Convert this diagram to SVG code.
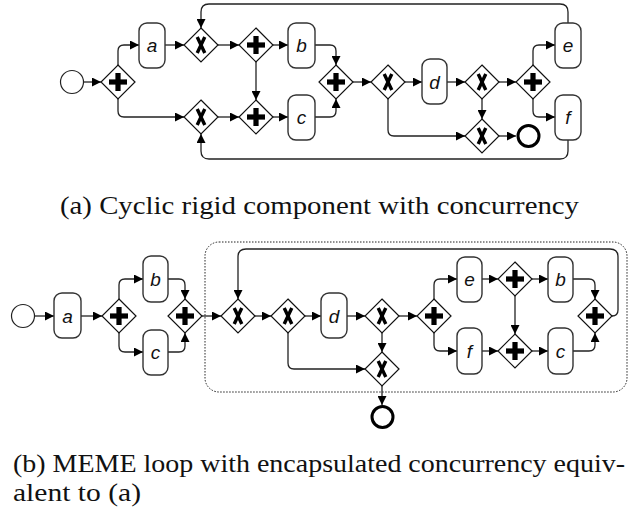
<svg xmlns="http://www.w3.org/2000/svg" width="629" height="512" viewBox="0 0 629 512">
<style>
.task{fill:#fff;stroke:#333;stroke-width:1.4}
.gw{fill:#fff;stroke:#111;stroke-width:1.2}
.start{fill:#fff;stroke:#222;stroke-width:1.2}
.end{fill:#fff;stroke:#000;stroke-width:3}
.lbl{font-family:"Liberation Sans",Arial,sans-serif;font-style:italic;font-size:19px;fill:#111;text-anchor:middle}
.cap{font-family:"Liberation Serif","Times New Roman",serif;font-size:25px;fill:#111}
.edge{fill:none;stroke:#222;stroke-width:1.3;marker-end:url(#arr)}
.xm{stroke:#000;stroke-width:3.4;fill:none}
.box{fill:none;stroke:#222;stroke-width:1;stroke-dasharray:1.5 1.5}
</style>
<defs>
<marker id="arr" markerUnits="userSpaceOnUse" markerWidth="9" markerHeight="9" refX="9" refY="4.5" orient="auto"><path d="M0,0 L9,4.5 L0,9 z" fill="#000"/></marker>
<g id="xor"><path class="gw" d="M0,-17 L17,0 L0,17 L-17,0 z"/><path class="xm" d="M-3.8,-8 L3.8,8 M3.8,-8 L-3.8,8"/></g>
<g id="and"><path class="gw" d="M0,-17 L17,0 L0,17 L-17,0 z"/><rect x="-9" y="-2.6" width="18" height="5.2" fill="#000"/><rect x="-2.6" y="-9" width="5.2" height="18" fill="#000"/></g>
</defs>

<!-- Diagram (a) -->
<g id="edges-a">
<path class="edge" d="M83.5,82 H101"/>
<path class="edge" d="M118,65 V51 Q118,45 124,45 H139"/>
<path class="edge" d="M118,99 V111 Q118,117 124,117 H184"/>
<path class="edge" d="M165,45 H184"/>
<path class="edge" d="M218,45 H239"/>
<path class="edge" d="M273,45 H288"/>
<path class="edge" d="M256,62 V100"/>
<path class="edge" d="M218,117 H239"/>
<path class="edge" d="M273,117 H288"/>
<path class="edge" d="M315,45 H330 Q336,45 336,51 V65"/>
<path class="edge" d="M315,117 H330 Q336,117 336,111 V99"/>
<path class="edge" d="M353,82 H371"/>
<path class="edge" d="M405,82 H422"/>
<path class="edge" d="M447,82 H465"/>
<path class="edge" d="M499,82 H516"/>
<path class="edge" d="M533,65 V51 Q533,45 539,45 H555"/>
<path class="edge" d="M533,99 V111 Q533,117 539,117 H555"/>
<path class="edge" d="M388,99 V130 Q388,136 394,136 H465"/>
<path class="edge" d="M482,99 V119"/>
<path class="edge" d="M499,136 H516"/>
<path class="edge" d="M568,23 V12 Q568,4 560,4 H209 Q201,4 201,12 V28"/>
<path class="edge" d="M568,140 V151 Q568,159 560,159 H209 Q201,159 201,151 V134"/>
</g>
<g id="a-start"><circle class="start" cx="72" cy="82" r="11.5"/></g>
<g id="a-and1"><use href="#and" x="118" y="82"/></g>
<g id="a-task-a"><rect class="task" x="139" y="23" width="26" height="45" rx="8"/><text class="lbl" x="152" y="52">a</text></g>
<g id="a-xor1"><use href="#xor" x="201" y="45"/></g>
<g id="a-xor2"><use href="#xor" x="201" y="117"/></g>
<g id="a-and2"><use href="#and" x="256" y="45"/></g>
<g id="a-and3"><use href="#and" x="256" y="117"/></g>
<g id="a-task-b"><rect class="task" x="288" y="23" width="27" height="45" rx="8"/><text class="lbl" x="301.5" y="52">b</text></g>
<g id="a-task-c"><rect class="task" x="288" y="95" width="27" height="45" rx="8"/><text class="lbl" x="301.5" y="124">c</text></g>
<g id="a-and4"><use href="#and" x="336" y="82"/></g>
<g id="a-xor3"><use href="#xor" x="388" y="82"/></g>
<g id="a-task-d"><rect class="task" x="422" y="59" width="25" height="45" rx="8"/><text class="lbl" x="434.5" y="89">d</text></g>
<g id="a-xor4"><use href="#xor" x="482" y="82"/></g>
<g id="a-xor5"><use href="#xor" x="482" y="136"/></g>
<g id="a-end"><circle class="end" cx="528.5" cy="136" r="10.5"/></g>
<g id="a-and5"><use href="#and" x="533" y="82"/></g>
<g id="a-task-e"><rect class="task" x="555" y="23" width="26" height="45" rx="8"/><text class="lbl" x="568" y="52">e</text></g>
<g id="a-task-f"><rect class="task" x="555" y="95" width="26" height="45" rx="8"/><text class="lbl" x="568" y="124">f</text></g>

<text class="cap" x="60" y="214" textLength="519" lengthAdjust="spacingAndGlyphs">(a) Cyclic rigid component with concurrency</text>

<!-- Diagram (b) -->
<g id="b-boundary"><rect class="box" x="205" y="242" width="422" height="150" rx="14"/></g>
<g id="edges-b">
<path class="edge" d="M34.5,316 H54"/>
<path class="edge" d="M81,316 H102"/>
<path class="edge" d="M119,299 V285 Q119,279 125,279 H143"/>
<path class="edge" d="M119,333 V346 Q119,352 125,352 H143"/>
<path class="edge" d="M168,279 H179 Q185,279 185,285 V299"/>
<path class="edge" d="M168,352 H179 Q185,352 185,346 V333"/>
<path class="edge" d="M202,316 H221"/>
<path class="edge" d="M255,316 H271"/>
<path class="edge" d="M305,316 H321"/>
<path class="edge" d="M347,316 H365"/>
<path class="edge" d="M399,316 H417"/>
<path class="edge" d="M434,299 V285 Q434,279 440,279 H457"/>
<path class="edge" d="M434,333 V345 Q434,351 440,351 H457"/>
<path class="edge" d="M482,279 H498"/>
<path class="edge" d="M532,279 H548"/>
<path class="edge" d="M515,296 V334"/>
<path class="edge" d="M482,351 H498"/>
<path class="edge" d="M532,351 H548"/>
<path class="edge" d="M573,279 H589 Q595,279 595,285 V299"/>
<path class="edge" d="M573,351 H589 Q595,351 595,345 V333"/>
<path class="edge" d="M612,316 Q618,316 618,310 V257 Q618,249 610,249 H246 Q238,249 238,257 V299"/>
<path class="edge" d="M288,333 V363 Q288,369 294,369 H365"/>
<path class="edge" d="M382,333 V352"/>
<path class="edge" d="M382,386 V405"/>
</g>
<g id="b-start"><circle class="start" cx="23" cy="316" r="11.5"/></g>
<g id="b-task-a"><rect class="task" x="54" y="293" width="27" height="45" rx="8"/><text class="lbl" x="67.5" y="323">a</text></g>
<g id="b-and1"><use href="#and" x="119" y="316"/></g>
<g id="b-task-b1"><rect class="task" x="143" y="256" width="25" height="46" rx="8"/><text class="lbl" x="155.5" y="286">b</text></g>
<g id="b-task-c1"><rect class="task" x="143" y="330" width="25" height="45" rx="8"/><text class="lbl" x="155.5" y="359">c</text></g>
<g id="b-and2"><use href="#and" x="185" y="316"/></g>
<g id="b-xor1"><use href="#xor" x="238" y="316"/></g>
<g id="b-xor2"><use href="#xor" x="288" y="316"/></g>
<g id="b-task-d"><rect class="task" x="321" y="293" width="26" height="45" rx="8"/><text class="lbl" x="334" y="323">d</text></g>
<g id="b-xor3"><use href="#xor" x="382" y="316"/></g>
<g id="b-xor4"><use href="#xor" x="382" y="369"/></g>
<g id="b-end"><circle class="end" cx="382.5" cy="417" r="10.5"/></g>
<g id="b-and3"><use href="#and" x="434" y="316"/></g>
<g id="b-task-e"><rect class="task" x="457" y="257" width="25" height="45" rx="8"/><text class="lbl" x="469.5" y="286">e</text></g>
<g id="b-task-f"><rect class="task" x="457" y="328" width="25" height="46" rx="8"/><text class="lbl" x="469.5" y="358">f</text></g>
<g id="b-and4"><use href="#and" x="515" y="279"/></g>
<g id="b-and5"><use href="#and" x="515" y="351"/></g>
<g id="b-task-b2"><rect class="task" x="548" y="257" width="25" height="45" rx="8"/><text class="lbl" x="560.5" y="286">b</text></g>
<g id="b-task-c2"><rect class="task" x="548" y="328" width="25" height="46" rx="8"/><text class="lbl" x="560.5" y="358">c</text></g>
<g id="b-and6"><use href="#and" x="595" y="316"/></g>

<text class="cap" x="13" y="472" textLength="612" lengthAdjust="spacingAndGlyphs">(b) MEME loop with encapsulated concurrency equiv-</text>
<text class="cap" x="13" y="501" textLength="128" lengthAdjust="spacingAndGlyphs">alent to (a)</text>
</svg>
